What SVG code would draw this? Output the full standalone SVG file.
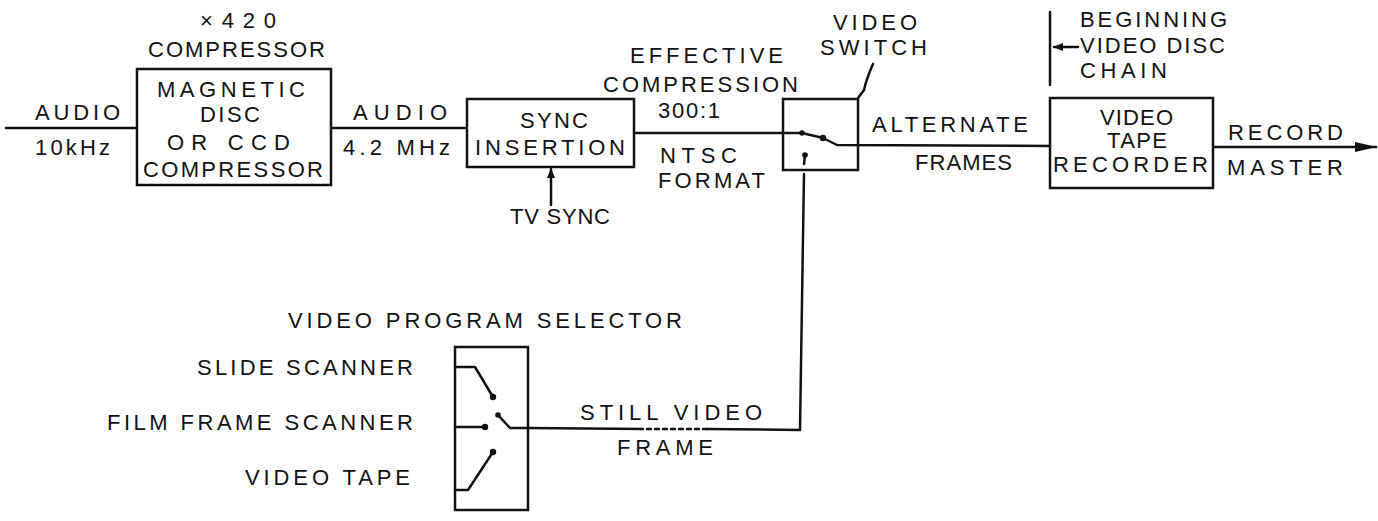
<svg xmlns="http://www.w3.org/2000/svg" width="1378" height="521" viewBox="0 0 1378 521">
<defs>
<style>
text{font-family:"Liberation Sans","DejaVu Sans",sans-serif;font-size:22px;fill:#111;lengthAdjust:spacing}
.box{fill:none;stroke:#111;stroke-width:2.5}
.ln{fill:none;stroke:#111;stroke-width:2.5;stroke-linecap:round;stroke-linejoin:round}
.dot{fill:#111}
</style>
<marker id="ah" markerWidth="10" markerHeight="8" refX="9" refY="4" orient="auto" markerUnits="userSpaceOnUse" viewBox="0 0 10 8">
<path d="M0,0 L10,4 L0,8 Z" fill="#111"/>
</marker>
<marker id="ahBig" markerWidth="22" markerHeight="10" refX="21" refY="5" orient="auto" markerUnits="userSpaceOnUse" viewBox="0 0 22 10">
<path d="M0,0 L22,5 L0,10 Z" fill="#111"/>
</marker>
</defs>
<rect width="1378" height="521" fill="#fff"/>

<g id="connectors">
<line class="ln" x1="6" y1="128" x2="136" y2="128"/>
<line class="ln" x1="331" y1="128" x2="467" y2="128"/>
<line class="ln" x1="634" y1="133" x2="802" y2="133"/>
<polyline class="ln" points="802,133 823,138 837,145 1050,146"/>
<line class="ln" x1="1213" y1="147" x2="1376" y2="147" marker-end="url(#ahBig)"/>
<line class="ln" x1="551" y1="205" x2="551" y2="169" marker-end="url(#ah)"/>
<polyline class="ln" points="804,174 800,430 707,429"/>
<line class="ln" x1="707" y1="429" x2="643" y2="429" stroke-dasharray="4 4"/>
<line class="ln" x1="643" y1="429" x2="528" y2="428"/>
<path class="ln" d="M873,64 Q866,80 864,90 L858,98"/>
<line class="ln" x1="1050" y1="12" x2="1050" y2="85"/>
<line class="ln" x1="1078" y1="47" x2="1054" y2="47" marker-end="url(#ah)"/>
</g>

<g id="compressor">
<rect class="box" x="137" y="69" width="194" height="116"/>
<text x="200" y="28" textLength="76">×420</text>
<text x="148" y="57" textLength="177">COMPRESSOR</text>
<text x="157" y="97" textLength="148">MAGNETIC</text>
<text x="200" y="122" textLength="60">DISC</text>
<text x="167" y="150" textLength="123">OR CCD</text>
<text x="143" y="177" textLength="180">COMPRESSOR</text>
</g>

<g id="labels-audio">
<text x="35" y="120" textLength="85">AUDIO</text>
<text x="35" y="155" textLength="75">10kHz</text>
<text x="353" y="120" textLength="94">AUDIO</text>
<text x="343" y="155" textLength="107">4.2 MHz</text>
</g>

<g id="sync">
<rect class="box" x="467" y="99" width="167" height="68"/>
<text x="520" y="128" textLength="68">SYNC</text>
<text x="475" y="155" textLength="150">INSERTION</text>
<text x="510" y="224" textLength="100">TV SYNC</text>
</g>

<g id="labels-compression">
<text x="630" y="63" textLength="153">EFFECTIVE</text>
<text x="603" y="92" textLength="195">COMPRESSION</text>
<text x="658" y="118" textLength="62">300:1</text>
<text x="660" y="163" textLength="77">NTSC</text>
<text x="658" y="188" textLength="107">FORMAT</text>
</g>

<g id="videoSwitch">
<rect class="box" x="783" y="99" width="75" height="71"/>
<circle class="dot" cx="802" cy="133" r="2.8"/>
<circle class="dot" cx="823" cy="138" r="3.2"/>
<circle class="dot" cx="805" cy="155" r="2.8"/>
<line class="ln" x1="805" y1="155" x2="804" y2="164"/>
<text x="833" y="30" textLength="84">VIDEO</text>
<text x="820" y="55" textLength="107">SWITCH</text>
</g>

<g id="labels-alternate">
<text x="872" y="132" textLength="156">ALTERNATE</text>
<text x="915" y="170" textLength="97">FRAMES</text>
</g>

<g id="vtr">
<rect class="box" x="1050" y="98" width="163" height="90"/>
<text x="1100" y="125" textLength="73">VIDEO</text>
<text x="1107" y="148" textLength="60">TAPE</text>
<text x="1053" y="172" textLength="155">RECORDER</text>
</g>

<g id="labels-chain">
<text x="1080" y="27" textLength="147">BEGINNING</text>
<text x="1080" y="53" textLength="145">VIDEO DISC</text>
<text x="1080" y="78" textLength="87">CHAIN</text>
</g>

<g id="labels-record">
<text x="1228" y="140" textLength="115">RECORD</text>
<text x="1227" y="175" textLength="116">MASTER</text>
</g>

<g id="selector">
<rect class="box" x="455" y="347" width="73" height="163"/>
<polyline class="ln" points="455,367 475,367 493,397"/>
<circle class="dot" cx="493" cy="397" r="3.2"/>
<line class="ln" x1="455" y1="427" x2="485" y2="427"/>
<circle class="dot" cx="485" cy="427" r="3.2"/>
<polyline class="ln" points="455,490 468,490 493,452"/>
<circle class="dot" cx="493" cy="452" r="3.2"/>
<polyline class="ln" points="498,415 510,428 528,428"/>
<circle class="dot" cx="498" cy="415" r="2.8"/>
<text x="288" y="328" textLength="394">VIDEO PROGRAM SELECTOR</text>
<text x="197" y="375" textLength="216">SLIDE SCANNER</text>
<text x="107" y="430" textLength="306">FILM FRAME SCANNER</text>
<text x="245" y="485" textLength="165">VIDEO TAPE</text>
</g>

<g id="labels-still">
<text x="580" y="420" textLength="182">STILL VIDEO</text>
<text x="617" y="455" textLength="96">FRAME</text>
</g>
</svg>
